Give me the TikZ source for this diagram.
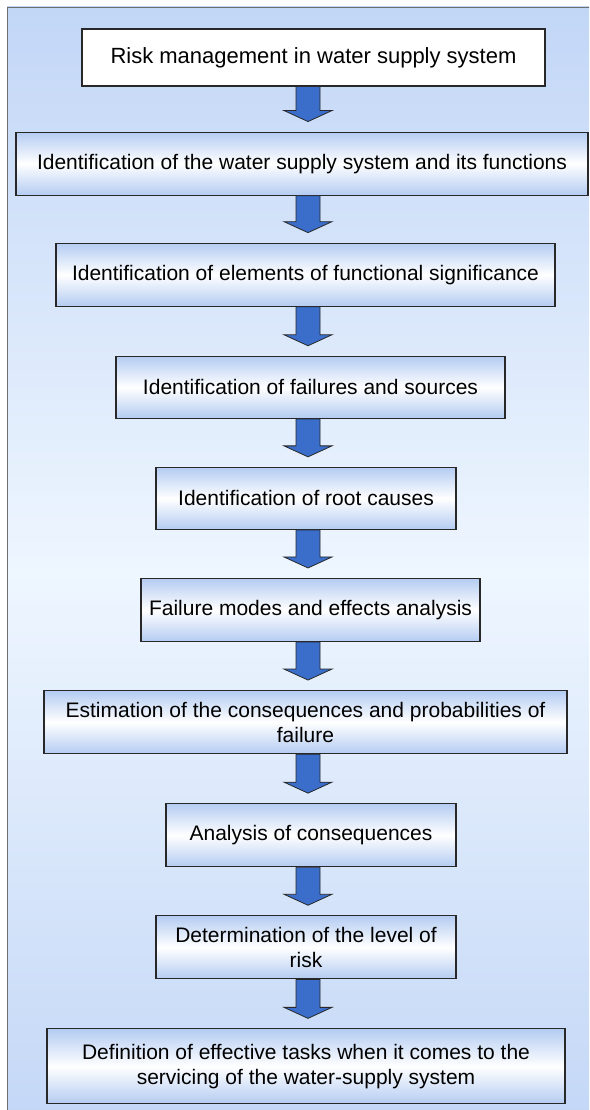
\documentclass[tikz,border=0pt]{standalone}
\usepackage{fontspec}
\setmainfont{Liberation Sans}
\usepackage{tikz}
\usetikzlibrary{positioning, calc}

\definecolor{bgblue}{RGB}{194,214,246}
\definecolor{bgwhite}{RGB}{238,246,255}
\definecolor{boxblue}{RGB}{180,204,242}
\definecolor{boxline}{RGB}{40,40,40}
\definecolor{arrblue}{RGB}{58,110,202}
\definecolor{framegray}{RGB}{110,110,110}

\begin{document}
\begin{tikzpicture}[x=1pt,y=1pt,node distance=48pt,
		stepbox/.style={draw=boxline,line width=1.1pt,align=center,inner sep=0pt,text=black,
			font=\fontsize{21}{25}\selectfont},
		bluebox/.style={stepbox,top color=boxblue,bottom color=boxblue,middle color=white},
		blockarr/.style={draw=boxline,line width=0.8pt,fill=arrblue,to path={
			let \p1=(\tikztostart), \p2=(\tikztotarget) in
			(296pt,\y1) -- (320pt,\y1) -- (320pt,{\y2+21pt}) -- (332pt,{\y2+21pt})
			-- (308pt,{\y2+10pt}) -- (284pt,{\y2+21pt}) -- (296pt,{\y2+21pt}) -- cycle}}]
	\useasboundingbox (0,0) rectangle (589,-1110);
	\clip (0,0) rectangle (589,-1110);
	% background panel
	\draw[framegray,line width=0.8pt,top color=bgblue,bottom color=bgblue,middle color=bgwhite]
		(7,-7) rectangle (620,-1140);
	% steps
	\node[stepbox,fill=white,minimum width=463pt,minimum height=57pt,
		font=\fontsize{22}{26}\selectfont] (1) at (313.5,-57.5) {Risk management in water supply system};
	\node[bluebox,minimum width=572pt,minimum height=63pt] (2) [below=45pt of 1,xshift=-11.5pt]
		{Identification of the water supply system and its functions};
	\node[bluebox,minimum width=499pt,minimum height=63pt] (3) [below=47pt of 2,xshift=3.5pt]
		{Identification of elements of functional significance};
	\node[bluebox,minimum width=389pt,minimum height=62pt] (4) [below=49pt of 3,xshift=5pt]
		{Identification of failures and sources};
	\node[bluebox,minimum width=300pt,minimum height=62pt] (5) [below=of 4,xshift=-4.5pt]
		{Identification of root causes};
	\node[bluebox,minimum width=339pt,minimum height=63pt] (6) [below=of 5,xshift=4.5pt]
		{Failure modes and effects analysis};
	\node[bluebox,minimum width=523pt,minimum height=63pt] (7) [below=of 6,xshift=-5pt]
		{Estimation of the consequences and probabilities of\\failure};
	\node[bluebox,minimum width=290pt,minimum height=63pt] (8) [below=49pt of 7,xshift=5.5pt]
		{Analysis of consequences};
	\node[bluebox,minimum width=300pt,minimum height=63pt] (9) [below=of 8,xshift=-5pt]
		{Determination of the level of\\risk};
	\node[bluebox,minimum width=518pt,minimum height=75pt] (10) [below=49pt of 9]
		{Definition of effective tasks when it comes to the\\servicing of the water-supply system};
	% arrows
	\foreach \a/\b in {1/2,2/3,3/4,4/5,5/6,6/7,7/8,8/9,9/10}
		\draw[blockarr] (\a.south) to (\b.north);
\end{tikzpicture}
\end{document}
